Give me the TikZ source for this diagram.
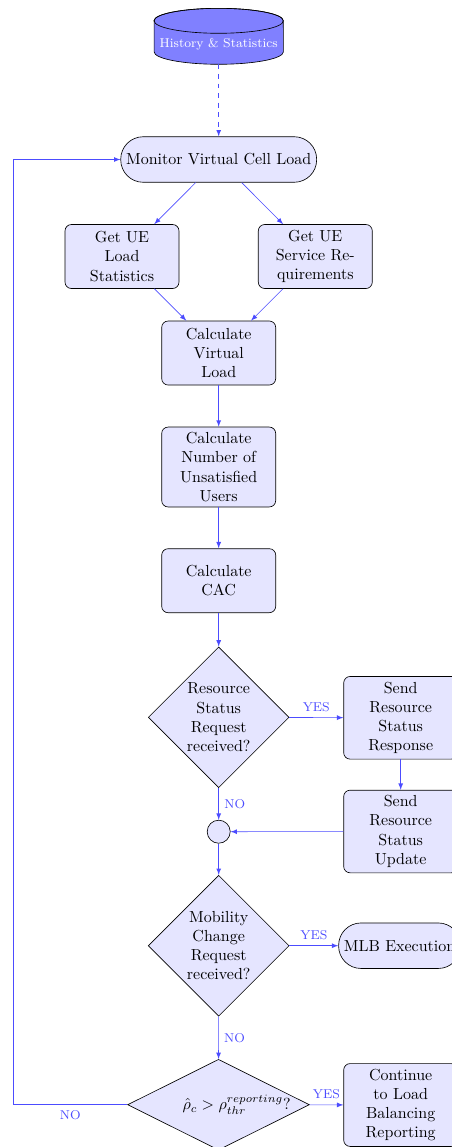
\documentclass[tikz,border=0pt]{standalone}
\usetikzlibrary{shapes.geometric,arrows}
\tikzset{
  block/.style={rectangle, draw, fill=blue!10, text width=5em, align=center, rounded corners, minimum width=71.25pt, minimum height=4em},
  decision/.style={diamond, draw, fill=blue!10, text width=4.5em, align=center, inner sep=0pt},
  term/.style={rectangle, draw, fill=blue!10, rounded corners=14pt, minimum height=1cm},
  conn/.style={circle, draw, fill=blue!10, minimum size=14.4pt, inner sep=0pt},
  line/.style={draw=blue!70, -latex},
  lab/.style={text=blue!70, font=\footnotesize},
}
\begin{document}
\begin{tikzpicture}[x=0.625pt, y=0.625pt]
\useasboundingbox (0,0) rectangle (452,-1147);
% database cylinder
\filldraw[fill=blue!50, draw=black] (154.1,-20.8) -- (154.1,-51.8)
  arc[start angle=180, end angle=360, x radius=40.4pt, y radius=7.8pt]
  -- (283.3,-20.8)
  arc[start angle=0, end angle=180, x radius=40.4pt, y radius=7.8pt] -- cycle;
\draw (218.7,-20.8) ellipse [x radius=40.4pt, y radius=7.8pt];
\node[text=white, font=\footnotesize] (hist) at (218.7,-44.3) {History \& Statistics};
\coordinate (histb) at (218.7,-64.3);

\node[term] (monitor) at (218.7,-159.5) {Monitor Virtual Cell Load};
\node[block] (getL) at (122,-256.5) {Get UE Load Statistics};
\node[block] (getR) at (315.3,-256.5) {Get UE Service Requirements};
\node[block] (calcVL) at (218.7,-353) {Calculate Virtual Load};
\node[block] (calcNU) at (218.7,-467) {Calculate Number of Unsatisfied Users};
\node[block] (calcCAC) at (218.7,-580.7) {Calculate CAC};
\node[decision] (dec1) at (218.7,-717.3) {Resource Status Request received?};
\node[block] (resp) at (400.7,-717.8) {Send Resource Status Response};
\node[block] (upd) at (400.7,-831.5) {Send Resource Status Update};
\node[conn] (join) at (218.7,-831.7) {};
\node[decision] (dec2) at (218.7,-945.7) {Mobility Change Request received?};
\node[term, anchor=west] (mlb) at (338.3,-945.7) {MLB Execution};
\node[decision, aspect=2, minimum width=113.6pt, minimum height=56.7pt] (dec3) at (218.5,-1104.7) {\mbox{$\hat{\rho}_c > \rho_{thr}^{reporting}$?}};
\node[block] (cont) at (400.7,-1105) {Continue to Load Balancing Reporting};
\coordinate (loop) at (13.3,-1104.7);

\draw[line, dashed] (histb) -- (monitor);
\draw[line] (monitor) -- (getL);
\draw[line] (monitor) -- (getR);
\draw[line] (getL) -- (calcVL);
\draw[line] (getR) -- (calcVL);
\draw[line] (calcVL) -- (calcNU);
\draw[line] (calcNU) -- (calcCAC);
\draw[line] (calcCAC) -- (dec1);
\draw[line] (dec1) -- node[lab, above] {YES} (resp);
\draw[line] (dec1) -- node[lab, right] {NO} (join);
\draw[line] (resp) -- (upd);
\draw[line] (upd) -- (join);
\draw[line] (join) -- (dec2);
\draw[line] (dec2) -- node[lab, above] {YES} (mlb);
\draw[line] (dec2) -- node[lab, right] {NO} (dec3);
\draw[line] (dec3) -- node[lab, above] {YES} (cont);
\draw[line] (dec3.west) -- node[lab, below] {NO} (loop) |- (monitor.west);
\end{tikzpicture}
\end{document}
